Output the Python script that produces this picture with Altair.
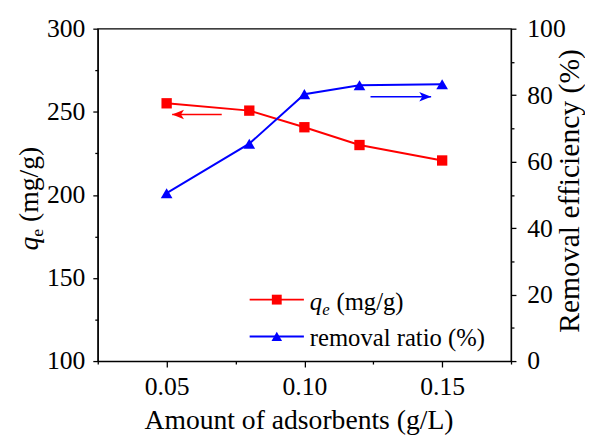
import altair as alt
import pandas as pd

# ---- data ----
amount = [0.05, 0.08, 0.10, 0.12, 0.15]
qe = [255.1, 250.7, 240.7, 230.0, 220.7]
removal = [50.5, 65.4, 80.3, 83.0, 83.3]

x_ticks = [0.025, 0.05, 0.075, 0.10, 0.125, 0.15, 0.175]
qe_ticks = [100, 125, 150, 175, 200, 225, 250, 275, 300]
rem_ticks = [0, 10, 20, 30, 40, 50, 60, 70, 80, 90, 100]

red_arrow_x = [0.070]
red_arrow_tip = [0.052]
red_arrow_y = [248.4]
blue_arrow_x = [0.124]
blue_arrow_tip = [0.146]
blue_arrow_y = [79.5]

legend_q = ["q"]
legend_sub = ["e"]
legend_unit = ["(mg/g)"]
legend_removal = ["removal ratio (%)"]
x_title = ["Amount of adsorbents (g/L)"]
y_left_q = ["q"]
y_left_sub = ["e"]
y_left_unit = ["(mg/g)"]
y_right_title = ["Removal efficiency (%)"]

RED = "#FF0000"
BLUE = "#0000FF"
FONT = "Liberation Serif"

W, H = 419, 337

df = pd.DataFrame({"amount": amount, "qe": qe, "removal": removal})
red_df = pd.DataFrame({"x": red_arrow_x, "tip": red_arrow_tip, "y": red_arrow_y})
blue_df = pd.DataFrame({"x": blue_arrow_x, "tip": blue_arrow_tip, "y": blue_arrow_y})

x_scale = alt.Scale(domain=[0.025, 0.175], nice=False, zero=False)
x_axis = alt.Axis(
    values=x_ticks, title=None, orient="bottom",
    labelExpr="round(datum.value*1000) % 50 == 0 ? format(datum.value, '.2f') : ''",
    tickSize={"condition": {"test": "round(datum.value*1000) % 50 != 0", "value": 3}, "value": 6},
    labelPadding=7,
)
qe_scale = alt.Scale(domain=[100, 300], nice=False, zero=False)
qe_axis = alt.Axis(
    values=qe_ticks, title=None, orient="left",
    labelExpr="datum.value % 50 == 0 ? datum.label : ''",
    tickSize={"condition": {"test": "datum.value % 50 != 0", "value": 3}, "value": 5},
    labelPadding=8,
)
rem_scale = alt.Scale(domain=[0, 100], nice=False, zero=False)
rem_axis = alt.Axis(
    values=rem_ticks, title=None, orient="right",
    labelExpr="datum.value % 20 == 0 ? datum.label : ''",
    tickSize={"condition": {"test": "datum.value % 20 != 0", "value": 3}, "value": 5},
    labelPadding=11,
)


def X(f):
    return alt.X(f"{f}:Q", scale=x_scale, axis=x_axis)


def YL(f):
    return alt.Y(f"{f}:Q", scale=qe_scale, axis=qe_axis)


def YR(f):
    return alt.Y(f"{f}:Q", scale=rem_scale, axis=rem_axis)


LEFT_HEAD = "M0,0L2,-0.8L1.5,0L2,0.8Z"
RIGHT_HEAD = "M0,0L-2,-0.8L-1.5,0L-2,0.8Z"

left_group = alt.layer(
    alt.Chart(df).mark_line(color=RED, strokeWidth=2).encode(x=X("amount"), y=YL("qe")),
    alt.Chart(df).mark_point(shape="square", filled=True, size=110, color=RED, opacity=1)
    .encode(x=X("amount"), y=YL("qe")),
    alt.Chart(red_df).mark_rule(color=RED, strokeWidth=1.5)
    .encode(x=X("x"), x2="tip:Q", y=YL("y")),
    alt.Chart(red_df).mark_point(shape=LEFT_HEAD, filled=True, size=144, color=RED, opacity=1)
    .encode(x=X("tip"), y=YL("y")),
)

right_group = alt.layer(
    alt.Chart(df).mark_line(color=BLUE, strokeWidth=2).encode(x=X("amount"), y=YR("removal")),
    alt.Chart(df).mark_point(shape="triangle-up", filled=True, size=140, color=BLUE, opacity=1)
    .encode(x=X("amount"), y=YR("removal")),
    alt.Chart(blue_df).mark_rule(color=BLUE, strokeWidth=1.5)
    .encode(x=X("x"), x2="tip:Q", y=YR("y")),
    alt.Chart(blue_df).mark_point(shape=RIGHT_HEAD, filled=True, size=144, color=BLUE, opacity=1)
    .encode(x=X("tip"), y=YR("y")),
)

one = pd.DataFrame({"k": [0]})


def txt(values, x, y, size, style="normal", angle=0, align="left", baseline="alphabetic"):
    d = pd.DataFrame({"t": values})
    return alt.Chart(d).mark_text(
        font=FONT, fontSize=size, fontStyle=style, angle=angle, align=align,
        baseline=baseline, color="black",
    ).encode(text="t:N", x=alt.value(x), y=alt.value(y))


# legend (drawn inside the plot area)
leg_y1, leg_y2 = 274.7, 312
legend = alt.layer(
    alt.Chart(one).mark_rule(color=RED, strokeWidth=2)
    .encode(x=alt.value(154), x2=alt.value(209), y=alt.value(leg_y1)),
    alt.Chart(one).mark_point(shape="square", filled=True, size=100, color=RED, opacity=1)
    .encode(x=alt.value(181.5), y=alt.value(leg_y1)),
    alt.Chart(one).mark_rule(color=BLUE, strokeWidth=2)
    .encode(x=alt.value(154), x2=alt.value(209), y=alt.value(leg_y2)),
    alt.Chart(one).mark_point(shape="triangle-up", filled=True, size=115, color=BLUE, opacity=1)
    .encode(x=alt.value(181.5), y=alt.value(leg_y2)),
    txt(legend_q, 215, 285, 25, style="italic"),
    txt(legend_sub, 227.5, 290, 17, style="italic"),
    txt(legend_unit, 242, 285, 25),
    txt(legend_removal, 215, 322, 25),
)

titles = alt.layer(
    txt(x_title, 204, 406, 28, align="center"),
    txt(y_left_q, -61, 225, 28, style="italic", angle=270),
    txt(y_left_sub, -56, 211, 18, angle=270),
    txt(y_left_unit, -61, 196, 28, angle=270),
    txt(y_right_title, 488, H / 2 - 4, 30, angle=270, align="center"),
)

chart = (
    alt.layer(left_group, right_group, legend, titles)
    .resolve_scale(y="independent")
    .properties(
        width=W, height=H,
        autosize=alt.AutoSizeParams(type="none"),
        padding={"left": 91, "top": 18, "right": 75, "bottom": 74},
        background="white",
    )
    .configure_axis(
        labelFont=FONT, labelFontSize=26, labelColor="black",
        domainColor="black", tickColor="black", domainWidth=1.3, tickWidth=1.3,
        grid=False, labelFlush=False, labelOverlap=False,
    )
    .configure_view(stroke="black", strokeWidth=1.3)
)

chart.save("out.html", embed_options={"renderer": "svg", "actions": False})
